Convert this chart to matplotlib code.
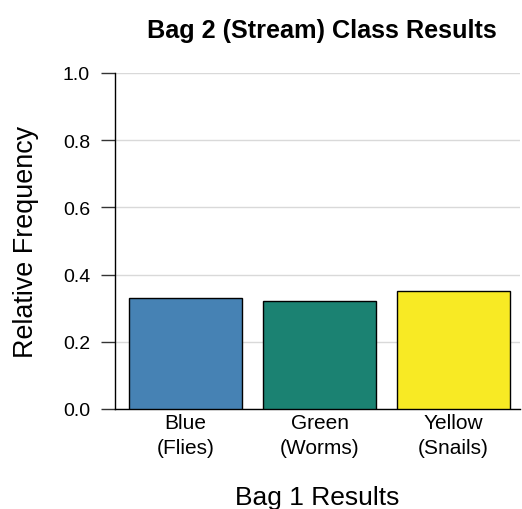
import matplotlib
matplotlib.use("Agg")
import matplotlib.pyplot as plt

categories = ["Blue\n(Flies)", "Green\n(Worms)", "Yellow\n(Snails)"]
values = [0.33, 0.32, 0.35]
colors = ["#4682B4", "#1B8272", "#F8EA24"]
yticks = [0.0, 0.2, 0.4, 0.6, 0.8, 1.0]

plt.rcParams['font.family'] = ['Liberation Sans', 'DejaVu Sans']

fig = plt.figure(figsize=(5.22, 5.10), dpi=100)
ax = fig.add_axes([115/522, 1 - 410/510, 405/522, 336/510])

x = list(range(len(categories)))
ax.bar(x, values, width=0.84, color=colors, edgecolor="black", linewidth=1.0, zorder=3)

ax.set_xlim(-0.526, 2.496)
ax.set_ylim(0, 1.0)
ax.set_yticks(yticks)
ax.set_yticklabels([f"{v:.1f}" for v in yticks], fontsize=14)
ax.set_xticks(x)
ax.set_xticklabels(categories, fontsize=15, linespacing=1.4)
ax.tick_params(axis='x', length=0, pad=3)
ax.tick_params(axis='y', length=10, width=1, direction='out', pad=8, color="#333333")
ax.yaxis.grid(True, color="#d9d9d9", linewidth=1, zorder=0)
ax.set_axisbelow(True)

for s in ["top", "right"]:
    ax.spines[s].set_visible(False)
ax.spines["left"].set_linewidth(1)
ax.spines["bottom"].set_linewidth(1)

ax.set_ylabel("Relative Frequency", fontsize=19.4, labelpad=17)
ax.set_xlabel("Bag 1 Results", fontsize=19, labelpad=20)
fig.text(322/522, 1 - 31/510, "Bag 2 (Stream) Class Results", fontsize=18.2,
         fontweight="bold", ha="center", va="center")

fig.savefig("out.png", dpi=100)
